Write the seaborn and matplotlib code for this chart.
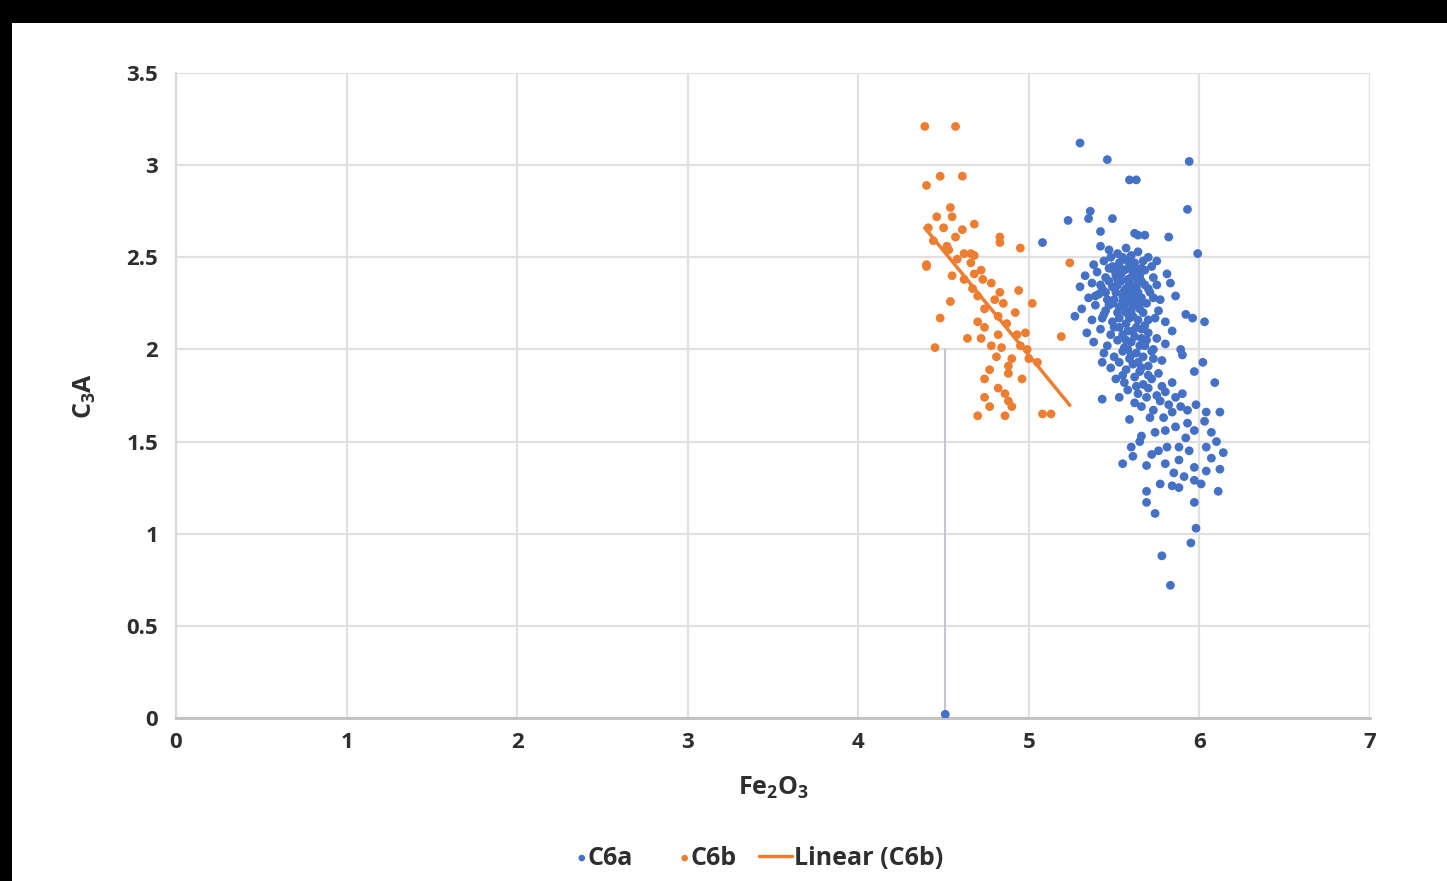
import numpy as np
import pandas as pd
import matplotlib
matplotlib.use("Agg")
import matplotlib.pyplot as plt
from matplotlib.patches import Rectangle
from matplotlib.legend_handler import HandlerPathCollection
import seaborn as sns

# C6a (blue) values
c6a_fe2o3 = [
    5.30, 5.46, 5.59, 5.63, 5.94, 5.93, 5.23, 5.35, 5.36, 5.49, 5.42, 5.08, 5.62, 5.64, 5.68, 5.82, 5.99, 5.42,
    5.47, 5.52, 5.57, 5.60, 5.64, 5.70,
    5.38, 5.44, 5.49, 5.53, 5.56, 5.60, 5.63, 5.67, 5.72, 5.75,
    5.33, 5.40, 5.45, 5.50, 5.54, 5.58, 5.61, 5.65, 5.68, 5.73, 5.81,
    5.30, 5.37, 5.43, 5.47, 5.52, 5.56, 5.59, 5.63, 5.66, 5.70, 5.75, 5.83,
    5.35, 5.41, 5.46, 5.51, 5.55, 5.59, 5.62, 5.66, 5.71, 5.77, 5.86,
    5.31, 5.39, 5.45, 5.49, 5.53, 5.57, 5.61, 5.65, 5.69, 5.76, 5.92,
    5.27, 5.37, 5.44, 5.49, 5.53, 5.57, 5.61, 5.64, 5.68, 5.74, 5.80, 5.96, 6.03,
    5.34, 5.42, 5.48, 5.53, 5.58, 5.62, 5.66, 5.70, 5.75, 5.84,
    5.38, 5.46, 5.52, 5.56, 5.60, 5.65, 5.69, 5.73, 5.80,
    5.44, 5.50, 5.55, 5.59, 5.63, 5.67, 5.72, 5.78, 5.90,
    5.43, 5.53, 5.48, 5.57, 5.61, 5.65, 5.70, 5.76, 5.89, 5.97, 6.02,
    5.51, 5.56, 5.62, 5.67, 5.72, 5.78, 5.84, 6.09,
    5.58, 5.64, 5.70, 5.75, 5.80, 5.90, 5.43, 5.53, 5.62,
    5.66, 5.73, 5.82, 5.89, 5.93, 5.98, 6.04, 6.12, 5.59, 5.71, 5.79, 6.03,
    5.80, 5.97, 5.60, 5.65, 5.61, 5.55, 5.72, 5.76, 5.81, 5.88, 5.94, 6.04, 6.14,
    5.69, 5.80, 5.88, 5.97, 6.04, 6.12, 5.84, 5.88, 5.77, 5.97, 6.01, 6.11,
    5.69, 5.69, 5.97, 5.74, 5.98, 5.95, 5.78, 5.83,
    5.86, 5.92, 6.07, 6.10, 5.85, 5.91, 6.07, 5.93, 5.74, 5.66,
    5.55, 5.58, 5.52, 5.62, 5.57, 5.64, 5.50, 5.60, 5.55, 5.67,
    5.63, 5.55, 5.68, 5.64, 5.58, 5.47, 5.42, 5.39, 5.73, 5.70,
    5.48, 5.53, 5.58, 5.62, 5.66, 5.51, 5.56, 5.60, 5.64, 5.68, 5.45, 5.49,
    5.54, 5.58, 5.61, 5.65, 5.52, 5.56, 5.59, 5.62, 5.47, 5.43, 5.50, 5.57,
    5.61, 5.66, 5.60, 5.66, 5.70, 5.73, 5.55, 5.63, 5.69, 5.77, 5.84, 5.86,
    4.51,
]
c6a_c3a = [
    3.12, 3.03, 2.92, 2.92, 3.02, 2.76, 2.70, 2.71, 2.75, 2.71, 2.64, 2.58, 2.63, 2.62, 2.62, 2.61, 2.52, 2.56,
    2.54, 2.52, 2.55, 2.51, 2.53, 2.50,
    2.46, 2.48, 2.45, 2.47, 2.49, 2.46, 2.44, 2.48, 2.45, 2.48,
    2.40, 2.42, 2.39, 2.43, 2.41, 2.38, 2.42, 2.40, 2.43, 2.39, 2.41,
    2.34, 2.36, 2.33, 2.37, 2.35, 2.32, 2.36, 2.34, 2.37, 2.33, 2.35, 2.36,
    2.28, 2.30, 2.27, 2.31, 2.29, 2.26, 2.30, 2.28, 2.31, 2.27, 2.29,
    2.22, 2.24, 2.21, 2.25, 2.23, 2.20, 2.24, 2.22, 2.25, 2.21, 2.19,
    2.18, 2.16, 2.19, 2.15, 2.17, 2.14, 2.18, 2.16, 2.13, 2.17, 2.15, 2.17, 2.15,
    2.09, 2.11, 2.08, 2.12, 2.10, 2.07, 2.11, 2.09, 2.06, 2.10,
    2.04, 2.02, 2.05, 2.01, 2.04, 2.02, 2.05, 2.00, 2.03,
    1.98, 1.96, 1.99, 1.95, 1.98, 1.96, 1.99, 1.94, 1.97,
    1.93, 1.93, 1.90, 1.89, 1.92, 1.88, 1.91, 1.87, 2.00, 1.88, 1.93,
    1.84, 1.82, 1.85, 1.81, 1.84, 1.80, 1.82, 1.82,
    1.78, 1.76, 1.79, 1.75, 1.77, 1.76, 1.73, 1.74, 1.71,
    1.69, 1.67, 1.70, 1.69, 1.67, 1.70, 1.66, 1.66, 1.62, 1.63, 1.63, 1.61,
    1.56, 1.56, 1.47, 1.50, 1.42, 1.38, 1.43, 1.45, 1.47, 1.47, 1.45, 1.47, 1.44,
    1.37, 1.38, 1.40, 1.36, 1.34, 1.35, 1.26, 1.25, 1.27, 1.29, 1.27, 1.23,
    1.23, 1.17, 1.17, 1.11, 1.03, 0.95, 0.88, 0.72,
    1.58, 1.52, 1.55, 1.50, 1.33, 1.31, 1.41, 1.60, 1.55, 1.53,
    2.50, 2.44, 2.38, 2.40, 2.33, 2.31, 2.27, 2.21, 2.26, 2.20,
    2.12, 2.08, 2.02, 1.93, 2.00, 2.44, 2.35, 2.29, 2.28, 2.16,
    2.50, 2.45, 2.48, 2.47, 2.44, 2.40, 2.43, 2.39, 2.37, 2.35, 2.31, 2.34,
    2.37, 2.30, 2.33, 2.25, 2.20, 2.23, 2.17, 2.27, 2.24, 2.17, 2.12, 2.05,
    2.10, 2.06, 1.97, 1.90, 1.86, 1.95, 1.86, 1.80, 1.74, 1.72, 1.66, 1.74,
    0.02,
]

# C6b (orange) values
c6b_fe2o3 = [
    4.39, 4.57, 4.48, 4.61, 4.40, 4.54, 4.55, 4.46, 4.68, 4.50, 4.61, 4.41, 4.83, 4.83, 4.95, 4.57, 4.44,
    4.53, 4.68, 4.62, 4.40, 5.24,
    4.40, 4.55, 4.68, 4.73, 4.67, 4.83, 4.94, 4.70, 4.54, 4.85, 5.02, 4.74, 4.92, 4.48, 4.82, 4.74,
    4.98, 4.64, 4.72, 4.82, 5.19, 4.45, 4.84, 4.95, 4.99, 4.81, 4.90, 5.00, 5.05, 4.77, 4.88, 4.74,
    4.86, 4.74, 4.88, 4.77, 4.90, 4.70, 4.86, 5.08, 5.13,
    4.52, 4.58, 4.66, 4.72, 4.78, 4.62, 4.80, 4.87, 4.93, 4.78, 4.70, 4.88, 4.96, 4.82, 4.66,
]
c6b_c3a = [
    3.21, 3.21, 2.94, 2.94, 2.89, 2.77, 2.72, 2.72, 2.68, 2.66, 2.65, 2.66, 2.61, 2.58, 2.55, 2.61, 2.59,
    2.54, 2.51, 2.52, 2.46, 2.47,
    2.45, 2.40, 2.41, 2.38, 2.33, 2.31, 2.32, 2.29, 2.26, 2.25, 2.25, 2.22, 2.20, 2.17, 2.18, 2.12,
    2.09, 2.06, 2.06, 2.08, 2.07, 2.01, 2.01, 2.02, 2.00, 1.96, 1.95, 1.95, 1.93, 1.89, 1.87, 1.84,
    1.76, 1.74, 1.72, 1.69, 1.69, 1.64, 1.64, 1.65, 1.65,
    2.56, 2.49, 2.47, 2.43, 2.36, 2.38, 2.27, 2.14, 2.08, 2.02, 2.15, 1.91, 1.84, 1.79, 2.52,
]

# faint vertical guide under the stray C6a point
guide_x = 4.51
guide_top = 2.0

x_ticks = [0, 1, 2, 3, 4, 5, 6, 7]
y_ticks = [0, 0.5, 1, 1.5, 2, 2.5, 3, 3.5]
y_tick_labels = ["0", "0.5", "1", "1.5", "2", "2.5", "3", "3.5"]

blue = "#4470C6"
orange = "#ED7D31"
text_col = "#2e2e2e"


class DotAtRight(HandlerPathCollection):
    # put the legend dot right next to its text, as in the source chart
    def get_xdata(self, legend, xdescent, ydescent, width, height, fontsize):
        x = [-xdescent + 0.9 * width]
        return x, x


sns.set_theme(style="whitegrid")
plt.rcParams["font.family"] = ["Open Sans", "DejaVu Sans"]
plt.rcParams["mathtext.default"] = "regular"

fig = plt.figure(figsize=(14.47, 8.81), dpi=100)
fig.patch.set_facecolor("black")
bg = Rectangle((12 / 1447, 0), 1 - 12 / 1447, (881 - 23) / 881,
               transform=fig.transFigure, facecolor="white",
               edgecolor="none", zorder=-10)
fig.patches.append(bg)

ax = fig.add_axes([176 / 1447, (881 - 718) / 881, 1194 / 1447, 645 / 881])
ax.set_zorder(1)
ax.set_facecolor("white")

df_a = pd.DataFrame({"Fe2O3": c6a_fe2o3, "C3A": c6a_c3a})
df_b = pd.DataFrame({"Fe2O3": c6b_fe2o3, "C3A": c6b_c3a})

ax.vlines(guide_x, 0, guide_top, color="#c4c6d2", lw=1.5, zorder=1)
sns.scatterplot(data=df_a, x="Fe2O3", y="C3A", ax=ax, color=blue, s=40,
                edgecolor="none", label="C6a", zorder=3)
sns.scatterplot(data=df_b, x="Fe2O3", y="C3A", ax=ax, color=orange, s=40,
                edgecolor="none", label="C6b", zorder=3)
sns.regplot(data=df_b, x="Fe2O3", y="C3A", ax=ax, scatter=False, ci=None,
            truncate=True, color=orange, line_kws={"lw": 2.5, "zorder": 4},
            label="Linear (C6b)")

ax.set_xlim(0, 7)
ax.set_ylim(0, 3.5)
ax.set_xticks(x_ticks)
ax.set_yticks(y_ticks)
ax.set_yticklabels(y_tick_labels)
ax.grid(True, color="#e0e0e0", lw=1.6)
for side in ["top", "right"]:
    ax.spines[side].set_visible(False)
ax.spines["left"].set_color("#d9d9d9")
ax.spines["bottom"].set_color("#c0c0c0")
ax.spines["left"].set_linewidth(1.6)
ax.spines["bottom"].set_linewidth(2)
ax.tick_params(axis="both", labelsize=16, colors=text_col, length=0)
ax.tick_params(axis="x", pad=10)
ax.tick_params(axis="y", pad=13)
for lab in ax.get_xticklabels() + ax.get_yticklabels():
    lab.set_fontweight("bold")

ax.set_xlabel(r"Fe$_2$O$_3$", fontsize=18, fontweight="bold", color=text_col, labelpad=16)
ax.set_ylabel(r"C$_3$A", fontsize=18, fontweight="bold", color=text_col, labelpad=20)

handles, labels = ax.get_legend_handles_labels()
leg = ax.legend(handles, labels, loc="upper center", bbox_to_anchor=(0.479, -0.163), ncol=3,
                frameon=False, fontsize=18, handlelength=1.3, handletextpad=0.1,
                columnspacing=0.9, markerscale=0.75,
                handler_map={type(handles[0]): DotAtRight()})
for t in leg.get_texts():
    t.set_fontweight("bold")
    t.set_color(text_col)

fig.savefig("out.png", dpi=100, facecolor=fig.get_facecolor())
